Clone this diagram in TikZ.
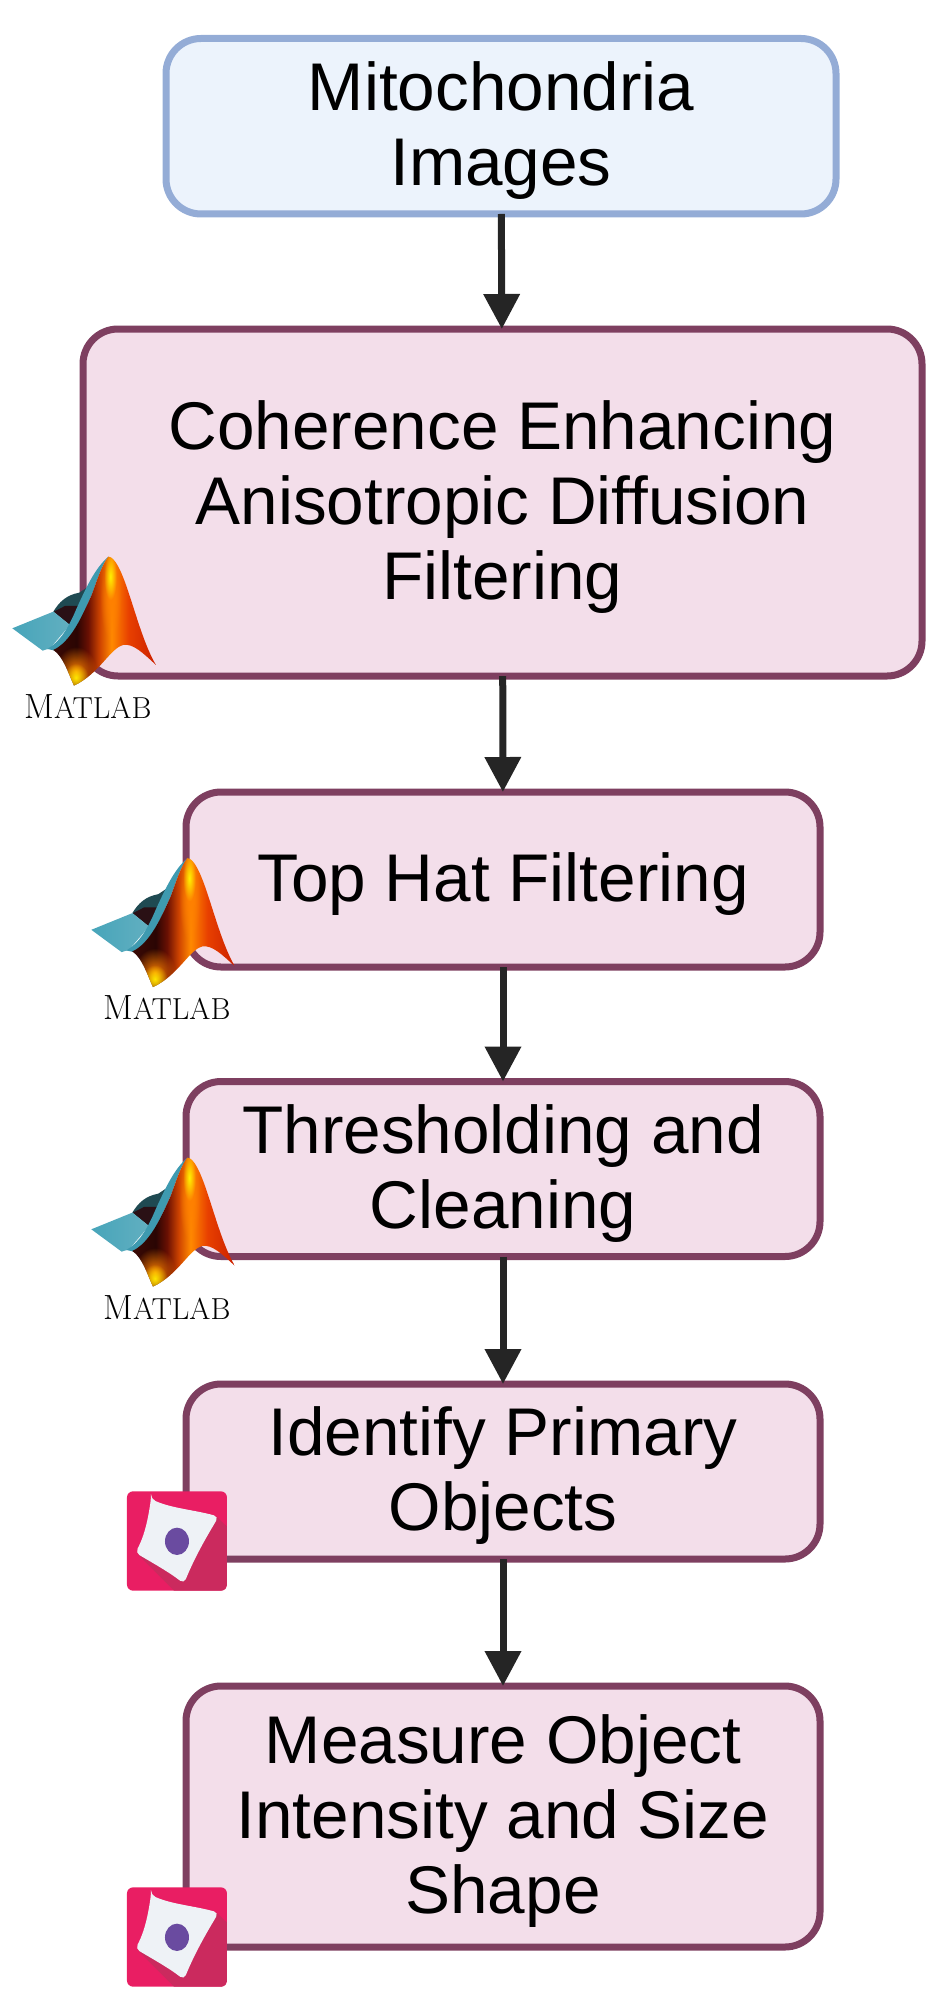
\documentclass[tikz,border=0pt]{standalone}
\usepackage{fontspec}
\usetikzlibrary{arrows.meta,fadings}
\newfontfamily\boxfont{Liberation Sans}
\newcommand{\lift}{\rule{0pt}{14.3mm}}
\definecolor{imgfill}{HTML}{ECF3FC}
\definecolor{imgline}{HTML}{94ACD6}
\definecolor{stepfill}{HTML}{F3DEEA}
\definecolor{stepline}{HTML}{7E3F60}
\definecolor{arrowgray}{HTML}{252525}
\definecolor{cpink}{HTML}{E91E63}
\definecolor{cshadow}{HTML}{CB2A5E}
\definecolor{ccell}{HTML}{EEF2F6}
\definecolor{cnucleus}{HTML}{6A4BA0}
\definecolor{skinA}{HTML}{3A0A04}
\definecolor{skinB}{HTML}{2A0503}
\definecolor{skinC}{HTML}{6A1003}
\definecolor{skinD}{HTML}{D04500}
\definecolor{skinE}{HTML}{FF8A00}
\definecolor{skinF}{HTML}{E84000}
\definecolor{skinG}{HTML}{CC2000}
\definecolor{plateL}{HTML}{47A5BA}
\definecolor{plateR}{HTML}{62AFC0}
\definecolor{rimteal}{HTML}{3E9AB0}
\definecolor{backteal}{HTML}{1F4A52}
\definecolor{backdark}{HTML}{2A1015}
\pgfdeclarehorizontalshading{matlabskin}{100bp}{
	color(0bp)=(skinA); color(27bp)=(skinA); color(37.6bp)=(skinB);
	color(43bp)=(skinC); color(48.6bp)=(skinD); color(54bp)=(skinE);
	color(62bp)=(skinF); color(75bp)=(skinG); color(100bp)=(skinG)}
\tikzfading[name=softspot,inner color=transparent!0,outer color=transparent!100]
\tikzset{
	flowbox/.style={rectangle,rounded corners=8.75mm,line width=1.75mm,outer sep=0pt,inner sep=0pt,
		align=center,font=\boxfont\fontsize{48}{53.4}\selectfont},
	imgbox/.style={flowbox,draw=imgline,fill=imgfill},
	stepbox/.style={flowbox,draw=stepline,fill=stepfill},
	flowedge/.style={->,line width=1.75mm,color=arrowgray},
	matlabicon/.pic={
		\begin{scope}[x=0.008333cm,y=-0.008333cm]
			\path[fill=backteal] (160,335) .. controls (178,305) and (200,285) .. (238,278)
				-- (262,262) -- (240,330) -- (210,375) -- cycle;
			\fill[backdark] (162,335) -- (195,318) -- (245,318) -- (210,375) -- cycle;
			\path[left color=plateL,right color=plateR] (37,385) -- (160,335)
				-- (210,375) -- (150,445) -- (128,452) -- cycle;
			\fill[rimteal] (325,170) .. controls (285,205) and (260,260) .. (230,325)
				.. controls (205,385) and (180,425) .. (142,447)
				-- (165,452) .. controls (215,425) and (250,340) .. (275,285) .. controls (290,245) and (305,195) .. (325,170);
			\begin{scope}
				\clip (325,170) .. controls (345,170) and (365,215) .. (385,275)
					.. controls (410,350) and (435,440) .. (468,495)
					.. controls (430,460) and (400,430) .. (370,435)
					.. controls (330,445) and (300,520) .. (222,557)
					.. controls (205,520) and (190,470) .. (160,450)
					.. controls (215,425) and (250,340) .. (275,285)
					.. controls (290,245) and (305,195) .. (325,170);
				\path[shading=matlabskin] (150,170) rectangle (468,557);
				\fill[orange,path fading=softspot] (165,440) rectangle (290,590);
				\fill[yellow!90!orange,path fading=softspot] (190,490) rectangle (265,575);
				\fill[orange,path fading=softspot] (300,170) rectangle (365,420);
				\fill[yellow,path fading=softspot] (312,160) rectangle (350,300);
			\end{scope}
			\node (-word) [anchor=base west,inner sep=0pt] at (72,655)
				{\fontsize{24.9}{25}\selectfont M\fontsize{21.6}{22}\selectfont ATLAB};
		\end{scope}
	},
	cellicon/.pic={
		\begin{scope}[x=0.008333cm,y=-0.008333cm]
			\fill[cpink,rounded corners=1.5mm] (81,94) rectangle (381,392);
			\begin{scope}
				\clip[rounded corners=1.5mm] (81,94) rectangle (381,392);
				\fill[cshadow] (350,170) -- (381,200) -- (381,392) -- (222,392) -- (115,285) -- cycle;
			\end{scope}
			\path[fill=ccell,rounded corners=1.2mm] (153,117) .. controls (215,145) and (285,150) .. (356,170)
				.. controls (320,230) and (285,290) .. (252,371)
				.. controls (205,335) and (160,310) .. (106,278)
				.. controls (135,225) and (145,170) .. cycle;
			\fill[cnucleus] (231,244) ellipse (36 and 41);
		\end{scope}
	}
}

\begin{document}
\begin{tikzpicture}[>={Triangle[length=8.75mm,width=8.75mm]}]
	\useasboundingbox (0,0) rectangle (23.425,-50.2);
	\draw (12.525,-3.156) node [imgbox,minimum width=16.75cm,minimum height=4.3875cm] (images) {\lift Mitochondria\\Images};
	\draw (12.5625,-12.5625) node [stepbox,minimum width=20.975cm,minimum height=8.675cm] (diffusion) {\lift Coherence Enhancing\\Anisotropic Diffusion\\Filtering};
	\draw (12.575,-21.9875) node [stepbox,minimum width=15.85cm,minimum height=4.375cm] (tophat) {\lift Top Hat Filtering};
	\draw (12.575,-29.225) node [stepbox,minimum width=15.85cm,minimum height=4.375cm] (threshold) {\lift Thresholding and\\Cleaning};
	\draw (12.575,-36.7875) node [stepbox,minimum width=15.85cm,minimum height=4.375cm] (primary) {\lift Identify Primary\\Objects};
	\draw (12.575,-45.4125) node [stepbox,minimum width=15.85cm,minimum height=6.525cm] (measure) {\lift Measure Object\\Intensity and Size\\Shape};
	\path[flowedge]
		(images) edge (diffusion)
		(diffusion) edge (tophat)
		(tophat) edge (threshold)
		(threshold) edge (primary)
		(primary) edge (measure);
	\pic (matlabA) at (0,-12.5) {matlabicon};
	\pic (matlabB) at (1.975,-20.0375) {matlabicon};
	\pic (matlabC) at (1.975,-27.525) {matlabicon};
	\pic (cellA) at (2.5,-36.5) {cellicon};
	\pic (cellB) at (2.5,-46.4) {cellicon};
\end{tikzpicture}
\end{document}
